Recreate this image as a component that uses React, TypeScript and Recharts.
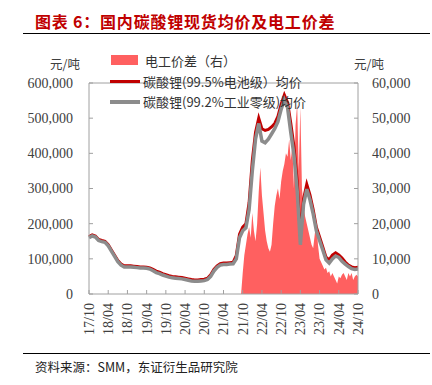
import React from "react";
import { ComposedChart, Area, Line, XAxis, YAxis, ReferenceLine } from "recharts";

// month index 0 = 2017/10
const TICK_MONTHS = [0, 6, 12, 18, 24, 30, 36, 42, 48, 54, 60, 66, 72, 78, 84];
const TICK_LABELS = ["17/10", "18/04", "18/10", "19/04", "19/10", "20/04", "20/10", "21/04", "21/10", "22/04", "22/10", "23/04", "23/10", "24/04", "24/10"];

// 碳酸锂(99.5%电池级) monthly, 元/吨
const BATTERY = [
  163000, 168000, 165000, 155000, 152000, 150000, 140000, 125000, 110000, 95000, 85000, 80000,
  80000, 80000, 79000, 78000, 77000, 77000, 76000, 74000, 70000, 65000, 62000, 58000,
  55000, 52000, 50000, 49000, 48000, 47000, 45000, 43000, 41000, 40000, 40000, 41000,
  42000, 45000, 55000, 70000, 80000, 86000, 88000, 88000, 89000, 90000, 110000, 170000,
  190000, 200000, 260000, 380000, 460000, 500000, 470000, 465000, 468000, 475000, 485000, 505000,
  540000, 566000, 545000, 486000, 420000, 324000, 165000, 270000, 312000, 282000, 240000, 190000,
  162000, 134000, 105000, 97000, 111000, 117000, 111000, 102000, 91000, 82000, 77000, 75000, 76000,
];

// 碳酸锂(99.2%工业零级) monthly, 元/吨
const INDUSTRIAL = [
  160000, 165000, 162000, 152000, 149000, 147000, 137000, 122000, 107000, 92000, 82000, 77000,
  77000, 77000, 76000, 75000, 74000, 74000, 73000, 71000, 66000, 61000, 58000, 54000,
  51000, 48000, 46000, 45000, 44000, 43000, 41000, 39000, 37000, 36000, 36000, 37000,
  38000, 41000, 50000, 65000, 76000, 82000, 84000, 84000, 85000, 86000, 100000, 160000,
  180000, 188000, 240000, 350000, 440000, 485000, 435000, 430000, 440000, 455000, 470000, 490000,
  525000, 552000, 530000, 460000, 395000, 295000, 140000, 255000, 298000, 268000, 228000, 180000,
  152000, 125000, 97000, 88000, 100000, 108000, 104000, 93000, 85000, 78000, 72000, 70000, 71000,
];

// 电工价差(右) half-monthly from month 47.5, 元/吨
const SPREAD_START = 47.5;
const SPREAD = [
  0, 6000, 11000, 14000, 17000, 19000, 16000, 23000, 18000, 15000, 20000, 29000, 36000, 28000,
  23000, 18000, 15000, 13000, 12000, 14000, 20000, 25000, 28000, 30000, 27000, 32000, 35000,
  37000, 40000, 39000, 44000, 38000, 42000, 30000, 48000, 54000, 35000, 53000, 30000, 25000,
  22000, 20000, 18000, 16000, 14000, 13000, 17000, 21000, 14000, 10000, 9000, 8000, 7000, 7500,
  6000, 6500, 5000, 6000, 5000, 4000, 3000, 5000, 4500, 5500, 6000, 5000, 4000, 6000, 5000,
  6000, 4000, 5000, 5500, 5000,
];

const lineData = BATTERY.map((v, i) => ({ m: i, battery: v, industrial: INDUSTRIAL[i] }));
const spreadData = SPREAD.map((v, i) => ({ m: SPREAD_START + i * 0.5, spread: v }));

const NUM_FONT = "'Liberation Serif', 'Times New Roman', serif";
const CJK_FONT = "'Noto Sans CJK SC', sans-serif";
const AXIS = "#a0a0a0";
const TXT = "#404040";

const LeftTick = (p: any) => (
  <g>
    <line x1={p.x} x2={p.x + 4} y1={p.y} y2={p.y} stroke={AXIS} />
    <text x={p.x - 16} y={p.y} dy="0.35em" textAnchor="end" fontFamily={NUM_FONT} fontSize={14} fill={TXT}>
      {Number(p.payload.value).toLocaleString("en-US")}
    </text>
  </g>
);

const RightTick = (p: any) => (
  <g>
    <line x1={p.x} x2={p.x - 4} y1={p.y} y2={p.y} stroke={AXIS} />
    <text x={p.x + 14} y={p.y} dy="0.35em" textAnchor="start" fontFamily={NUM_FONT} fontSize={14} fill={TXT}>
      {Number(p.payload.value).toLocaleString("en-US")}
    </text>
  </g>
);

const BottomTick = (p: any) => {
  const idx = TICK_MONTHS.indexOf(p.payload.value);
  return (
    <g>
      <line x1={p.x} x2={p.x} y1={p.y} y2={p.y - 4} stroke={AXIS} />
      <text
        x={p.x}
        y={p.y + 9}
        dy="0.35em"
        textAnchor="end"
        transform={`rotate(-90, ${p.x}, ${p.y + 9})`}
        fontFamily={NUM_FONT}
        fontSize={14}
        fill={TXT}
      >
        {TICK_LABELS[idx]}
      </text>
    </g>
  );
};

export default function App() {
  return (
    <div style={{ position: "absolute", left: 0, top: 0, width: 432, height: 385, background: "#fff" }}>
      <div style={{ position: "absolute", left: 35, top: 9, fontFamily: CJK_FONT, fontSize: 16, fontWeight: 700, color: "#c00000", letterSpacing: 0.8, whiteSpace: "nowrap" }}>
        图表 6：国内碳酸锂现货均价及电工价差
      </div>
      <div style={{ position: "absolute", left: 23, top: 33, width: 407, height: 1, background: "#000" }} />

      <ComposedChart width={432} height={385} data={lineData} margin={{ top: 83, right: 14, bottom: 41, left: 29 }}>
        <XAxis
          dataKey="m"
          type="number"
          domain={[0, 84]}
          ticks={TICK_MONTHS}
          xAxisId="x"
          height={50}
          tickLine={false}
          tickSize={0}
          tickMargin={0}
          stroke={AXIS}
          tick={BottomTick}
          interval={0}
          allowDuplicatedCategory={false}
        />
        <YAxis
          yAxisId="left"
          domain={[0, 600000]}
          ticks={[0, 100000, 200000, 300000, 400000, 500000, 600000]}
          width={60}
          tickLine={false}
          tickSize={0}
          tickMargin={0}
          stroke={AXIS}
          tick={LeftTick}
          interval={0}
        />
        <YAxis
          yAxisId="right"
          orientation="right"
          domain={[0, 60000]}
          ticks={[0, 10000, 20000, 30000, 40000, 50000, 60000]}
          width={60}
          tickLine={false}
          tickSize={0}
          tickMargin={0}
          stroke={AXIS}
          tick={RightTick}
          interval={0}
        />
        <ReferenceLine yAxisId="left" xAxisId="x" y={600000} stroke={AXIS} />
        <Area
          data={spreadData}
          dataKey="spread"
          xAxisId="x"
          yAxisId="right"
          type="linear"
          stroke="none"
          fill="#ff6060"
          fillOpacity={1}
          isAnimationActive={false}
        />
        <Line
          dataKey="battery"
          xAxisId="x"
          yAxisId="left"
          type="linear"
          stroke="#c00000"
          strokeWidth={3}
          dot={false}
          isAnimationActive={false}
        />
        <Line
          dataKey="industrial"
          xAxisId="x"
          yAxisId="left"
          type="linear"
          stroke="#8c8c8c"
          strokeWidth={3.5}
          dot={false}
          isAnimationActive={false}
        />
      </ComposedChart>

      <div style={{ position: "absolute", left: 50, top: 54, fontFamily: CJK_FONT, fontSize: 12.5, color: TXT }}>元/吨</div>
      <div style={{ position: "absolute", left: 354, top: 54, fontFamily: CJK_FONT, fontSize: 12.5, color: TXT }}>元/吨</div>

      <div style={{ position: "absolute", left: 111, top: 55, width: 27, height: 10, background: "#ff6060" }} />
      <div style={{ position: "absolute", left: 145, top: 51, fontFamily: CJK_FONT, fontSize: 13, color: "#333", whiteSpace: "nowrap" }}>电工价差（右）</div>
      <div style={{ position: "absolute", left: 110, top: 80, width: 30, height: 3, background: "#c00000" }} />
      <div style={{ position: "absolute", left: 143, top: 72, fontFamily: CJK_FONT, fontSize: 13, color: "#333", whiteSpace: "nowrap" }}>碳酸锂(99.5%电池级）均价</div>
      <div style={{ position: "absolute", left: 110, top: 100, width: 30, height: 3.5, background: "#8c8c8c" }} />
      <div style={{ position: "absolute", left: 143, top: 92, fontFamily: CJK_FONT, fontSize: 13, color: "#333", whiteSpace: "nowrap" }}>碳酸锂(99.2%工业零级)均价</div>

      <div style={{ position: "absolute", left: 23, top: 353, width: 407, height: 1, background: "#000" }} />
      <div style={{ position: "absolute", left: 35, top: 357, fontFamily: CJK_FONT, fontSize: 12.5, color: "#222", whiteSpace: "nowrap" }}>
        资料来源：SMM，东证衍生品研究院
      </div>
    </div>
  );
}
